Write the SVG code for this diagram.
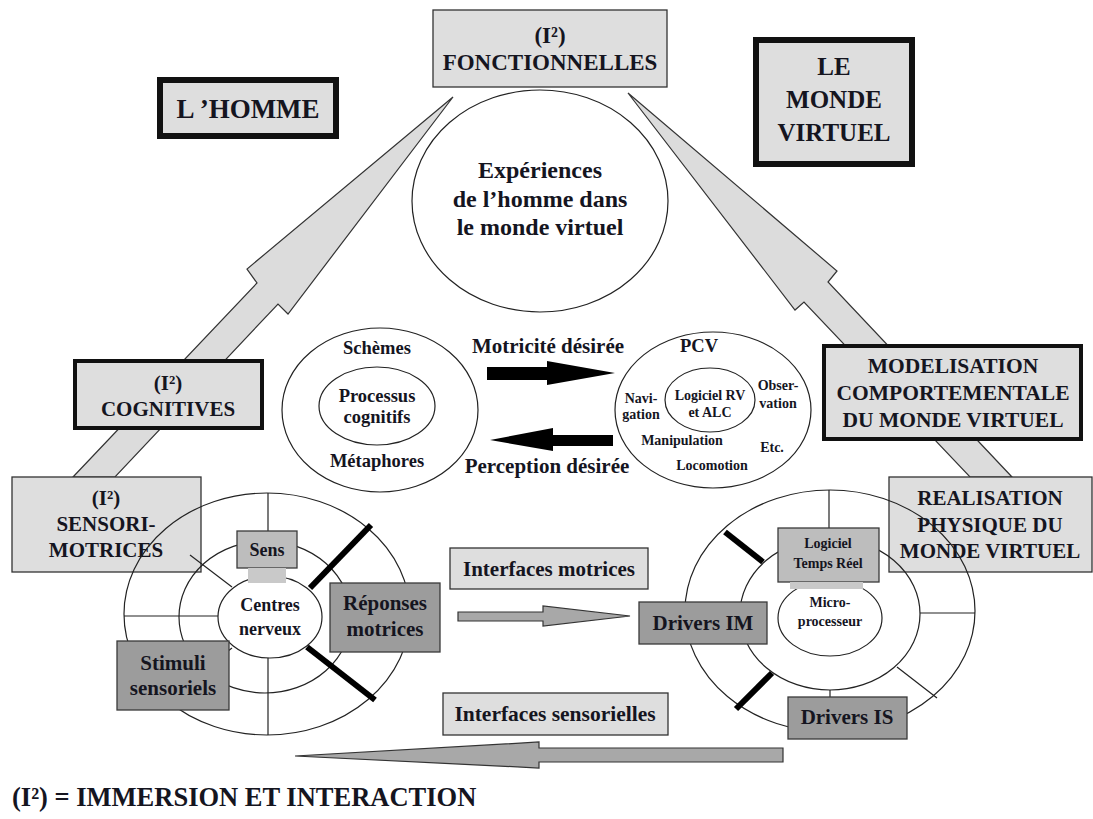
<svg xmlns="http://www.w3.org/2000/svg" width="1093" height="819" viewBox="0 0 1093 819">
<style>
text{font-family:"Liberation Serif","Times New Roman",serif;font-weight:bold;fill:#15151f;text-anchor:middle}
.lt{fill:#dedede;stroke:#333;stroke-width:1.3}
.thick6{fill:#dedede;stroke:#111;stroke-width:6}
.thick4{fill:#dedede;stroke:#111;stroke-width:4}
.dk{fill:#9c9c9c;stroke:#3a3a3a;stroke-width:1.3}
.md{fill:#bdbdbd;stroke:#3a3a3a;stroke-width:1.3}
.mdl{fill:#c9c9c9;stroke:none}
.el{fill:none;stroke:#222;stroke-width:1.2}
.elw{fill:#fff;stroke:#222;stroke-width:1.2}
.ln{stroke:#222;stroke-width:1.2;fill:none}
.bl{stroke:#000;stroke-width:6;fill:none}
.bigarr{fill:#dcdcdc;stroke:#333;stroke-width:1.2}
.garr{fill:#a8a8a8;stroke:#333;stroke-width:1.2}
.karr{fill:#000}
</style>
<rect width="1093" height="819" fill="#fff"/>

<g id="connectors">
  <polygon class="bigarr" points="453,97 247,269 257,283 73,477 115,477 278,304 288,314"/>
  <polygon class="bigarr" points="628,93 837,271 828,282 1012,477 970,477 804,302 795,310"/>
  <polygon class="karr" points="487,367 547,367 547,361 615,373 547,385 547,380 487,380"/>
  <polygon class="karr" points="613,435 553,435 553,428 490,440 553,451 553,446 613,446"/>
  <polygon class="garr" points="458,612 543,612 543,606 630,616 543,626 543,621 458,621"/>
  <polygon class="garr" points="783,748 539,748 539,742 295,756 539,768 539,762 783,762"/>
</g>

<g id="fonctionnelles">
  <rect class="lt" x="433" y="10" width="234" height="77"/>
  <text x="550" y="43" font-size="23">(I²)</text>
  <text x="550" y="70" font-size="23">FONCTIONNELLES</text>
</g>

<g id="homme">
  <rect class="thick6" x="160" y="80" width="176" height="56"/>
  <text x="248" y="118" font-size="27">L ’HOMME</text>
</g>

<g id="monde-virtuel">
  <rect class="thick6" x="756" y="40" width="156" height="124"/>
  <text x="834" y="75" font-size="25">LE</text>
  <text x="834" y="108" font-size="25">MONDE</text>
  <text x="834" y="141" font-size="25">VIRTUEL</text>
</g>

<g id="experiences">
  <ellipse class="elw" cx="540" cy="201" rx="128" ry="111"/>
  <text x="540" y="178" font-size="24">Expériences</text>
  <text x="540" y="207" font-size="24">de l’homme dans</text>
  <text x="540" y="235" font-size="24">le monde virtuel</text>
</g>

<g id="cognitives">
  <rect class="thick4" x="75" y="361" width="187" height="67"/>
  <text x="168" y="390" font-size="21">(I²)</text>
  <text x="168" y="416" font-size="21">COGNITIVES</text>
</g>

<g id="modelisation">
  <rect class="thick4" x="824" y="346" width="257" height="93"/>
  <text x="953" y="373" font-size="21.5">MODELISATION</text>
  <text x="953" y="400" font-size="21.5">COMPORTEMENTALE</text>
  <text x="953" y="427" font-size="21.5">DU MONDE VIRTUEL</text>
</g>

<g id="schemes">
  <ellipse class="el" cx="380" cy="410" rx="98" ry="82"/>
  <ellipse class="el" cx="377" cy="406" rx="58" ry="39"/>
  <text x="377" y="354" font-size="18.5">Schèmes</text>
  <text x="377" y="402" font-size="18.5">Processus</text>
  <text x="377" y="423" font-size="18.5">cognitifs</text>
  <text x="377" y="467" font-size="18.5">Métaphores</text>
</g>

<g id="motricite-label">
  <text x="548" y="353" font-size="21">Motricité désirée</text>
</g>
<g id="perception-label">
  <text x="547" y="473" font-size="21">Perception désirée</text>
</g>

<g id="pcv">
  <ellipse class="el" cx="713" cy="410" rx="98" ry="78"/>
  <ellipse class="el" cx="710" cy="400" rx="45" ry="32"/>
  <text x="699" y="352" font-size="18.5">PCV</text>
  <text x="641" y="403" font-size="14">Navi-</text>
  <text x="641" y="419" font-size="14">gation</text>
  <text x="710" y="400" font-size="14">Logiciel RV</text>
  <text x="710" y="417" font-size="14">et ALC</text>
  <text x="778" y="390" font-size="14">Obser-</text>
  <text x="778" y="408" font-size="14">vation</text>
  <text x="682" y="445" font-size="14">Manipulation</text>
  <text x="772" y="452" font-size="14">Etc.</text>
  <text x="712" y="470" font-size="14">Locomotion</text>
</g>

<g id="sensori-motrices">
  <rect class="lt" x="12" y="477" width="189" height="95"/>
  <text x="106" y="505" font-size="21">(I²)</text>
  <text x="106" y="531" font-size="21">SENSORI-</text>
  <text x="106" y="557" font-size="21">MOTRICES</text>
</g>

<g id="realisation">
  <rect class="lt" x="889" y="477" width="203" height="95"/>
  <text x="990" y="505" font-size="21">REALISATION</text>
  <text x="990" y="532" font-size="21">PHYSIQUE DU</text>
  <text x="990" y="558" font-size="21">MONDE VIRTUEL</text>
</g>

<g id="homme-wheel">
  <ellipse class="el" cx="267" cy="614" rx="143" ry="121"/>
  <ellipse class="el" cx="265" cy="617" rx="86" ry="76"/>
  <line class="ln" x1="268" y1="493" x2="268" y2="531"/>
  <line class="ln" x1="124" y1="616" x2="218" y2="616"/>
  <line class="ln" x1="190" y1="555" x2="232" y2="587"/>
  <line class="ln" x1="232" y1="648" x2="200" y2="672"/>
  <line class="ln" x1="268" y1="658" x2="268" y2="735"/>
  <ellipse class="elw" cx="270" cy="617" rx="52" ry="41"/>
  <line class="bl" x1="371" y1="525" x2="310" y2="588"/>
  <line class="bl" x1="307" y1="647" x2="375" y2="700"/>
  <text x="270" y="611" font-size="18">Centres</text>
  <text x="270" y="635" font-size="18">nerveux</text>
</g>

<g id="sens">
  <rect class="md" x="237" y="531" width="60" height="37"/>
  <rect class="mdl" x="248" y="568" width="38" height="15"/>
  <text x="267" y="556" font-size="18">Sens</text>
</g>

<g id="reponses-motrices">
  <rect class="dk" x="330" y="583" width="110" height="69"/>
  <text x="385" y="610" font-size="21">Réponses</text>
  <text x="385" y="636" font-size="21">motrices</text>
</g>

<g id="stimuli-sensoriels">
  <rect class="dk" x="117" y="641" width="112" height="69"/>
  <text x="173" y="670" font-size="21">Stimuli</text>
  <text x="173" y="695" font-size="21">sensoriels</text>
</g>

<g id="interfaces-motrices">
  <rect class="lt" x="450" y="548" width="198" height="41"/>
  <text x="549" y="576" font-size="21">Interfaces motrices</text>
</g>

<g id="interfaces-sensorielles">
  <rect class="lt" x="443" y="693" width="225" height="42"/>
  <text x="555" y="721" font-size="21.5">Interfaces sensorielles</text>
</g>

<g id="monde-wheel">
  <ellipse class="el" cx="830" cy="611" rx="145" ry="121"/>
  <ellipse class="el" cx="830" cy="614" rx="90" ry="76"/>
  <line class="ln" x1="829" y1="490" x2="829" y2="528"/>
  <line class="ln" x1="920" y1="613" x2="975" y2="613"/>
  <line class="ln" x1="897" y1="667" x2="937" y2="698"/>
  <line class="ln" x1="830" y1="690" x2="830" y2="697"/>
  <ellipse class="elw" cx="830" cy="618" rx="52" ry="38"/>
  <line class="bl" x1="725" y1="532" x2="763" y2="562"/>
  <line class="bl" x1="772" y1="673" x2="736" y2="709"/>
  <text x="830" y="607" font-size="14">Micro-</text>
  <text x="830" y="626" font-size="14">processeur</text>
</g>

<g id="logiciel-temps-reel">
  <rect class="md" x="778" y="528" width="101" height="54"/>
  <rect class="mdl" x="790" y="582" width="73" height="7"/>
  <text x="828" y="548" font-size="14">Logiciel</text>
  <text x="828" y="568" font-size="14">Temps Réel</text>
</g>

<g id="drivers-im">
  <rect class="dk" x="639" y="602" width="128" height="42"/>
  <text x="703" y="630" font-size="21">Drivers IM</text>
</g>

<g id="drivers-is">
  <rect class="dk" x="788" y="697" width="119" height="42"/>
  <text x="847" y="724" font-size="21">Drivers IS</text>
</g>

<g id="legend">
  <text x="12" y="806" font-size="26.5" style="text-anchor:start">(I²) = IMMERSION ET INTERACTION</text>
</g>
</svg>
